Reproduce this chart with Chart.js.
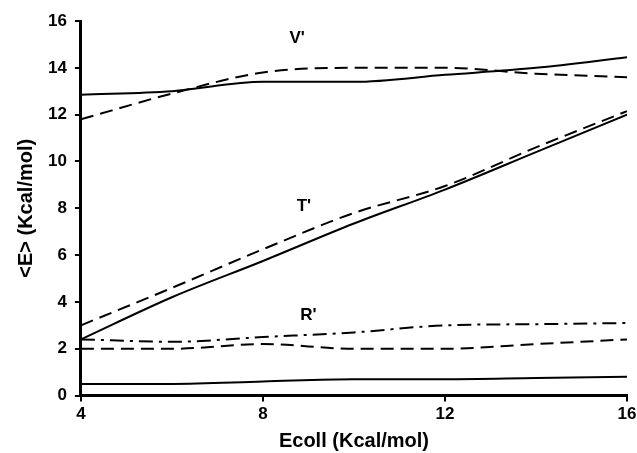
<!DOCTYPE html>
<html>
<head>
<meta charset="utf-8">
<script src="https://cdn.jsdelivr.net/npm/chart.js@4"></script>
<style>
  html, body { margin: 0; padding: 0; background: #fff; }
  #wrap { width: 637px; height: 453px; }
</style>
</head>
<body>
<div id="wrap"><canvas id="lineChart"></canvas></div>
<script>
// Collision energies (x axis)
const ecoll = [4, 6, 8, 10, 12, 14, 16];

// Average energies per channel
const vSolid  = [12.85, 13.0, 13.4, 13.4, 13.7, 14.0, 14.45];
const vDashed = [11.8, 12.9, 13.8, 14.0, 14.0, 13.75, 13.6];
const tSolid  = [2.4, 4.2, 5.75, 7.35, 8.8, 10.4, 12.0];
const tDashed = [3.0, 4.6, 6.25, 7.8, 8.95, 10.6, 12.15];
const rDashDot = [2.4, 2.3, 2.5, 2.7, 3.0, 3.05, 3.1];
const rDashed  = [2.0, 2.0, 2.2, 2.0, 2.0, 2.2, 2.4];
const rSolid   = [0.5, 0.5, 0.6, 0.7, 0.7, 0.75, 0.8];

const yTicks = [0, 2, 4, 6, 8, 10, 12, 14, 16];
const xTicks = [4, 8, 12, 16];

// text labels placed at data coordinates
const curveLabels = [
  { text: "V'", x: 8.75, y: 15.25 },
  { text: "T'", x: 8.9, y: 8.1 },
  { text: "R'", x: 9.0, y: 3.45 }
];

const pts = arr => arr.map((v, i) => ({ x: ecoll[i], y: v }));

const line = (data, dash) => ({
  data: pts(data),
  borderColor: '#000',
  borderWidth: 2,
  borderDash: dash,
  pointRadius: 0,
  fill: false,
  cubicInterpolationMode: 'monotone'
});

const labelPlugin = {
  id: 'curveLabels',
  afterDatasetsDraw(chart) {
    const { ctx, scales } = chart;
    ctx.save();
    ctx.font = 'bold 17px "Liberation Sans", Arial, sans-serif';
    ctx.fillStyle = '#000';
    ctx.textAlign = 'center';
    ctx.textBaseline = 'middle';
    curveLabels.forEach(l => {
      ctx.fillText(l.text, scales.x.getPixelForValue(l.x), scales.y.getPixelForValue(l.y));
    });
    ctx.restore();
  }
};

const tickFont = { family: '"Liberation Sans", Arial, sans-serif', size: 17, weight: 'bold' };
const titleFont = { family: '"Liberation Sans", Arial, sans-serif', size: 20, weight: 'bold', lineHeight: 1 };

new Chart(document.getElementById('lineChart'), {
  type: 'line',
  data: {
    datasets: [
      line(vSolid, []),
      line(vDashed, [13, 7]),
      line(tSolid, []),
      line(tDashed, [13, 7]),
      line(rDashDot, [14, 6, 3, 6]),
      line(rDashed, [13, 7]),
      line(rSolid, [])
    ]
  },
  options: {
    responsive: true,
    maintainAspectRatio: false,
    animation: false,
    layout: { padding: { top: 21, right: 1, bottom: 2, left: 16 } },
    plugins: { legend: { display: false }, tooltip: { enabled: false } },
    scales: {
      x: {
        type: 'linear',
        min: 4, max: 16,
        afterBuildTicks: s => { s.ticks = xTicks.map(v => ({ value: v })); },
        afterFit: s => { s.paddingRight = 10; },
        grid: { drawOnChartArea: false, drawTicks: true, tickLength: 6, color: '#000', lineWidth: 2 },
        border: { display: true, color: '#000', width: 3 },
        ticks: { color: '#000', font: tickFont, padding: 3, maxRotation: 0 },
        title: { display: true, text: 'Ecoll (Kcal/mol)', color: '#000', font: titleFont, padding: { top: 3, bottom: 0 } }
      },
      y: {
        min: 0, max: 16,
        afterBuildTicks: s => { s.ticks = yTicks.map(v => ({ value: v })); },
        grid: { drawOnChartArea: false, drawTicks: true, tickLength: 6, color: '#000', lineWidth: 2 },
        border: { display: true, color: '#000', width: 3 },
        ticks: { color: '#000', font: tickFont, padding: 8 },
        title: { display: true, text: '<E> (Kcal/mol)', color: '#000', font: titleFont, padding: { top: 0, bottom: 4 } }
      }
    }
  },
  plugins: [labelPlugin]
});
</script>
</body>
</html>
